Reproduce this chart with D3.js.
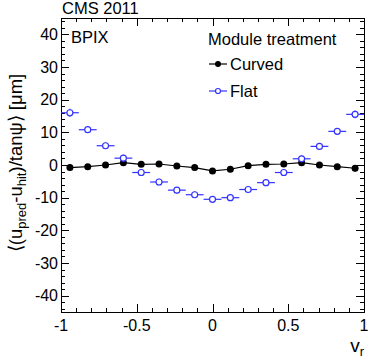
<!DOCTYPE html>
<html>
<head>
<meta charset="utf-8">
<script src="https://cdn.jsdelivr.net/npm/d3@7"></script>
<style>
  body { margin: 0; background: #fff; }
  svg { font-family: "Liberation Sans", Arial, sans-serif; }
</style>
</head>
<body>
<svg width="374" height="359"></svg>
<script>
// data: 17 bins in v_r from -1 to 1
var nBins = 17;
var curvedVals = [-0.8, -0.5, 0.0, 0.7, 0.2, 0.3, -0.3, -0.8, -1.8, -1.3, -0.2, 0.2, 0.3, 0.7, 0.0, -0.5, -1.0];
var flatVals = [16.0, 10.8, 5.9, 2.1, -2.3, -5.2, -7.7, -9.1, -10.5, -10.0, -7.5, -5.4, -2.3, 1.9, 5.7, 10.3, 15.5];
var curvedErr = [1.0, 0.8, 0.8, 0.8, 0.8, 0.8, 0.8, 0.8, 0.8, 0.8, 0.8, 0.8, 0.8, 0.8, 0.8, 0.8, 1.0];
var flatErr = [1.2, 1.0, 1.0, 1.0, 1.0, 1.0, 1.0, 1.0, 1.0, 1.0, 1.0, 1.0, 1.0, 1.0, 1.0, 1.0, 1.2];
var yTicks = [-40, -30, -20, -10, 0, 10, 20, 30, 40];
var xTicks = [-1, -0.5, 0, 0.5, 1];
var xTickLabels = ["-1", "-0.5", "0", "0.5", "1"];

var svg = d3.select("svg");
var pLeft = 61, pRight = 364, pTop = 18, pBottom = 312;

var x = d3.scaleLinear().domain([-1, 1]).range([pLeft, pRight]);
var y = d3.scaleLinear().domain([-45, 45]).range([pBottom, pTop]);

var binW = 2 / nBins;
var centers = d3.range(nBins).map(function(i) { return -1 + (i + 0.5) * binW; });
var curved = centers.map(function(c, i) { return {x: c, y: curvedVals[i], e: curvedErr[i]}; });
var flat = centers.map(function(c, i) { return {x: c, y: flatVals[i], e: flatErr[i]}; });

// frame
svg.append("rect")
  .attr("x", pLeft + 0.5).attr("y", pTop + 0.5)
  .attr("width", pRight - pLeft).attr("height", pBottom - pTop)
  .attr("fill", "none").attr("stroke", "#000").attr("stroke-width", 1);

// ticks (ROOT style: inside, mirrored)
var gt = svg.append("g").attr("stroke", "#000").attr("stroke-width", 1);
d3.range(-44, 45, 2).forEach(function(v) {
  var major = v % 10 === 0;
  var len = major ? 8 : 4;
  var yy = Math.round(y(v)) + 0.5;
  gt.append("line").attr("x1", pLeft).attr("x2", pLeft + len).attr("y1", yy).attr("y2", yy);
  gt.append("line").attr("x1", pRight).attr("x2", pRight - len).attr("y1", yy).attr("y2", yy);
});
d3.range(-10, 11, 1).forEach(function(k) {
  var v = k / 10;
  var major = k % 5 === 0;
  var len = major ? 8 : 4;
  var xx = Math.round(x(v)) + 0.5;
  gt.append("line").attr("x1", xx).attr("x2", xx).attr("y1", pBottom).attr("y2", pBottom - len);
  gt.append("line").attr("x1", xx).attr("x2", xx).attr("y1", pTop).attr("y2", pTop + len);
});

// tick labels
svg.append("g").selectAll("text").data(yTicks).enter().append("text")
  .attr("x", pLeft - 3).attr("y", function(d) { return y(d); })
  .attr("dy", "0.36em").attr("text-anchor", "end")
  .style("font-size", "16px").text(function(d) { return d; });
svg.append("g").selectAll("text").data(xTicks).enter().append("text")
  .attr("x", function(d) { return x(d); }).attr("y", pBottom + 19)
  .attr("text-anchor", "middle")
  .style("font-size", "16px").text(function(d, i) { return xTickLabels[i]; });

// axis titles
var xt = svg.append("text").attr("x", 364).attr("y", 352).attr("text-anchor", "end").style("font-size", "19px");
xt.append("tspan").text("v");
xt.append("tspan").attr("dy", 4).style("font-size", "13px").text("r");

var yt = svg.append("text")
  .attr("transform", "translate(22," + (pTop + 145) + ") rotate(-90)")
  .attr("text-anchor", "middle").style("font-size", "18.5px");
yt.append("tspan").text("\u27E8(u");
yt.append("tspan").attr("dy", 4).style("font-size", "13px").text("pred");
yt.append("tspan").attr("dy", -4).text("-u");
yt.append("tspan").attr("dy", 4).style("font-size", "13px").text("hit");
yt.append("tspan").attr("dy", -4).text(")/tan\u03C8\u27E9 [\u03BCm]");

// CMS label and region label
svg.append("text").attr("x", 62).attr("y", 14).style("font-size", "16.5px").text("CMS 2011");
svg.append("text").attr("x", 71).attr("y", 43).style("font-size", "16.5px").text("BPIX");

// curved series: line + error bars + filled markers
var line = d3.line().x(function(d) { return x(d.x); }).y(function(d) { return y(d.y); });
svg.append("path").datum(curved).attr("d", line)
  .attr("fill", "none").attr("stroke", "#000").attr("stroke-width", 1.2);
var gc = svg.append("g");
gc.selectAll("line.v").data(curved).enter().append("line")
  .attr("x1", function(d) { return x(d.x); }).attr("x2", function(d) { return x(d.x); })
  .attr("y1", function(d) { return y(d.y - d.e); }).attr("y2", function(d) { return y(d.y + d.e); })
  .attr("stroke", "#000").attr("stroke-width", 1.2);
gc.selectAll("circle").data(curved).enter().append("circle")
  .attr("cx", function(d) { return x(d.x); }).attr("cy", function(d) { return y(d.y); })
  .attr("r", 3.5).attr("fill", "#000");

// flat series: horizontal + vertical error bars and open markers
var blue = "#3333ff";
var gf = svg.append("g");
gf.selectAll("line.h").data(flat).enter().append("line")
  .attr("x1", function(d) { return x(d.x - binW / 2); }).attr("x2", function(d) { return x(d.x + binW / 2); })
  .attr("y1", function(d) { return y(d.y); }).attr("y2", function(d) { return y(d.y); })
  .attr("stroke", blue).attr("stroke-width", 1.2);
gf.selectAll("line.v").data(flat).enter().append("line")
  .attr("x1", function(d) { return x(d.x); }).attr("x2", function(d) { return x(d.x); })
  .attr("y1", function(d) { return y(d.y - d.e); }).attr("y2", function(d) { return y(d.y + d.e); })
  .attr("stroke", blue).attr("stroke-width", 1.2);
gf.selectAll("circle").data(flat).enter().append("circle")
  .attr("cx", function(d) { return x(d.x); }).attr("cy", function(d) { return y(d.y); })
  .attr("r", 3).attr("fill", "#fff").attr("stroke", blue).attr("stroke-width", 1.2);

// legend
var lg = svg.append("g");
lg.append("text").attr("x", 208).attr("y", 45).style("font-size", "16.5px").text("Module treatment");
lg.append("line").attr("x1", 209).attr("x2", 227).attr("y1", 64).attr("y2", 64).attr("stroke", "#000").attr("stroke-width", 1.2);
lg.append("circle").attr("cx", 218).attr("cy", 64).attr("r", 3).attr("fill", "#000");
lg.append("text").attr("x", 230).attr("y", 64).attr("dy", "0.36em").style("font-size", "16.5px").text("Curved");
lg.append("line").attr("x1", 209).attr("x2", 227).attr("y1", 91).attr("y2", 91).attr("stroke", blue).attr("stroke-width", 1.2);
lg.append("circle").attr("cx", 218).attr("cy", 91).attr("r", 2.5).attr("fill", "#fff").attr("stroke", blue).attr("stroke-width", 1.2);
lg.append("text").attr("x", 230).attr("y", 91).attr("dy", "0.36em").style("font-size", "16.5px").text("Flat");
</script>
</body>
</html>
